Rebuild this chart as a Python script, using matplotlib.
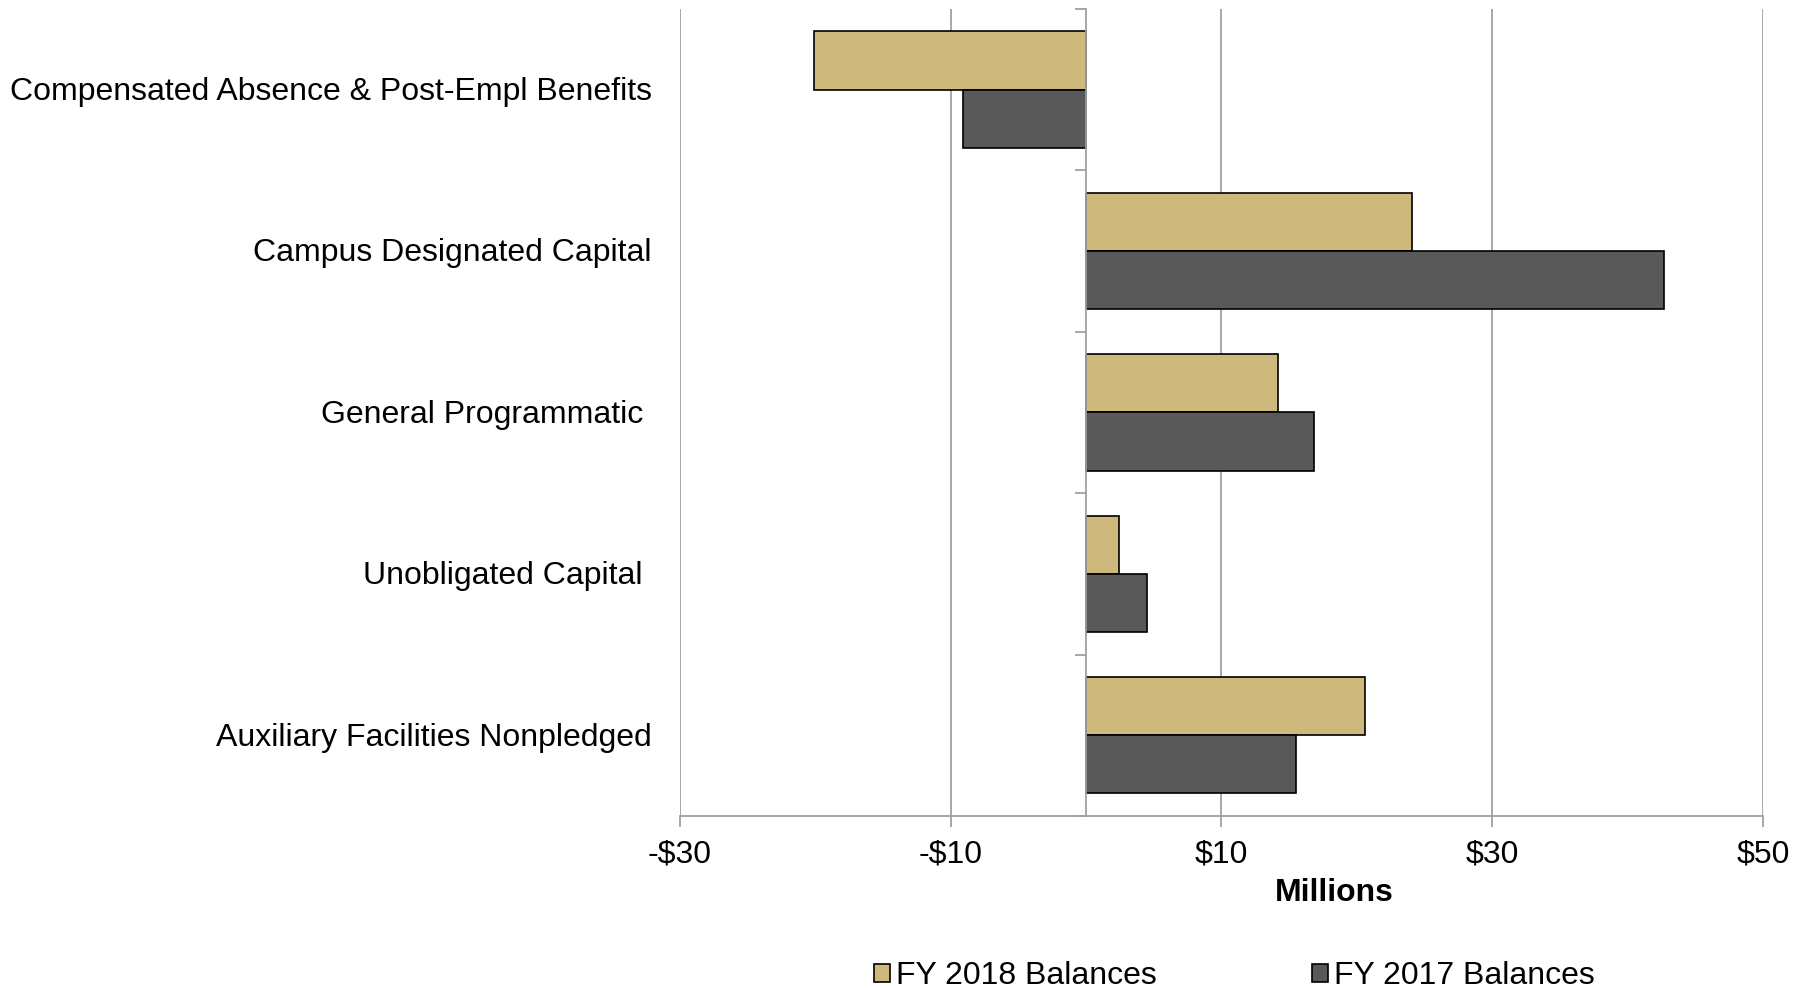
import matplotlib.pyplot as plt
import numpy as np

categories = ['Compensated Absence & Post-Empl Benefits',
              'Campus Designated Capital',
              'General Programmatic ',
              'Unobligated Capital ',
              'Auxiliary Facilities Nonpledged']
fy2018 = [-20.1, 24.1, 14.2, 2.4, 20.6]
fy2017 = [-9.1, 42.7, 16.8, 4.5, 15.5]
x_ticks = [-30, -10, 10, 30, 50]
x_tick_labels = ['-$30', '-$10', '$10', '$30', '$50']

plt.rcParams['font.family'] = ['Liberation Sans', 'DejaVu Sans']

gold = '#CFB87C'
dark = '#595959'
grid_col = '#A0A0A0'
fs = 23

fig = plt.figure(figsize=(18.10, 9.88), dpi=100)
ax = fig.add_axes([0.3757, 0.174, 0.5983, 0.817])

y = np.arange(len(categories))
h = 0.36
ax.barh(y - h / 2, fy2018, height=h, color=gold, edgecolor='black', linewidth=1.2,
        label='FY 2018 Balances', zorder=3)
ax.barh(y + h / 2, fy2017, height=h, color=dark, edgecolor='black', linewidth=1.2,
        label='FY 2017 Balances', zorder=3)

ax.set_xlim(-30, 50)
ax.set_ylim(len(categories) - 0.5, -0.5)

ax.set_xticks(x_ticks)
ax.set_xticklabels(x_tick_labels, fontsize=fs)
ax.tick_params(axis='x', length=8, width=1.3, color=grid_col, pad=9)
ax.grid(axis='x', color=grid_col, linewidth=1.3, zorder=0)

# y axis sits at zero, with little ticks between categories
ax.spines['left'].set_position(('data', 0))
ax.spines['left'].set_color(grid_col)
ax.spines['left'].set_linewidth(1.3)
ax.spines['left'].set_zorder(4)
ax.set_yticks(np.arange(len(categories) + 1) - 0.5, minor=True)
ax.set_yticks(y)
ax.set_yticklabels([])
ax.tick_params(axis='y', which='major', length=0)
ax.tick_params(axis='y', which='minor', length=8, width=1.3, color=grid_col)
for i, name in enumerate(categories):
    ax.text(-0.026, i + 0.015, name, transform=ax.get_yaxis_transform(),
            ha='right', va='center', fontsize=fs)

ax.spines['bottom'].set_color(grid_col)
ax.spines['bottom'].set_linewidth(1.3)
ax.spines['top'].set_visible(False)
ax.spines['right'].set_visible(False)

ax.set_xlabel('Millions', fontsize=fs, fontweight='bold')
ax.xaxis.set_label_coords(0.604, -0.077)

ax.legend(loc='center', bbox_to_anchor=(0.682, 0.012), bbox_transform=fig.transFigure,
          ncol=2, frameon=False, fontsize=fs, handlelength=0.5, handleheight=0.5,
          handletextpad=0.2, columnspacing=4.85)

fig.savefig('out.png', dpi=100)
